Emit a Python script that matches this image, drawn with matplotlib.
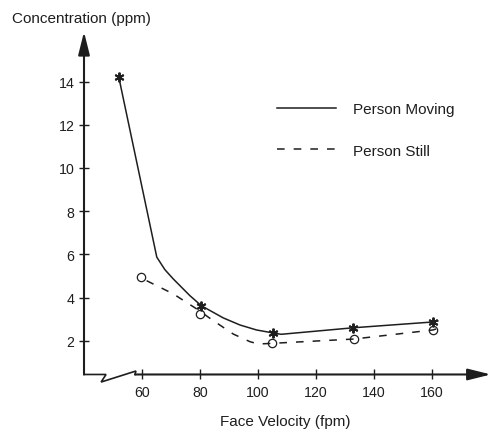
import matplotlib
matplotlib.use("Agg")
import matplotlib.pyplot as plt

plt.rcParams['font.family'] = ['Liberation Sans', 'DejaVu Sans']
plt.rcParams['lines.scale_dashes'] = False

INK = '#1e1e1e'

moving_line_x = [52, 65.1, 67.9, 70.8, 76.5, 80.5, 88, 93.8, 99.5, 105.3, 108, 132.7, 160.3, 162]
moving_line_y = [14.2, 5.87, 5.29, 4.86, 4.09, 3.62, 3.06, 2.73, 2.5, 2.36, 2.3, 2.6, 2.87, 2.92]
moving_pts_x = [52, 80.5, 105.3, 132.7, 160.3]
moving_pts_y = [14.2, 3.62, 2.36, 2.6, 2.87]

# Person still
still_line_x = [61.6, 70.8, 78.9, 84.6, 91.5, 97.2, 100.1, 104.7, 133, 160.3, 162.8]
still_line_y = [4.78, 4.17, 3.47, 2.93, 2.31, 1.96, 1.85, 1.88, 2.08, 2.5, 2.6]
still_pts_x = [59.7, 80, 104.7, 133, 160.3]
still_pts_y = [4.95, 3.24, 1.88, 2.08, 2.5]

x_ticks = [60, 80, 100, 120, 140, 160]
y_ticks = [2, 4, 6, 8, 10, 12, 14]

fig = plt.figure(figsize=(4.92, 4.31), dpi=100)
ax = fig.add_axes([0, 0, 1, 1])
ax.set_xlim(11.03, 180.7)
ax.set_ylim(-2.13, 17.82)

axis_y = 0.44
axis_x = 40
for s in ['top', 'right']:
    ax.spines[s].set_visible(False)
ax.spines['left'].set_position(('data', axis_x))
ax.spines['bottom'].set_position(('data', axis_y))
ax.spines['left'].set_visible(False)
ax.spines['bottom'].set_visible(False)

ax.set_xticks(x_ticks)
ax.set_yticks(y_ticks)
ax.tick_params(direction='inout', length=7.2, width=1.0, color=INK,
               labelcolor=INK, labelsize=10.2)
ax.tick_params(axis='x', pad=4)
ax.tick_params(axis='y', pad=3.4)

# axes with arrow heads
arrow = dict(arrowstyle='-|>,head_length=1.4,head_width=0.35', mutation_scale=10,
             lw=1.5, color=INK, shrinkA=0, shrinkB=0)
ax.annotate('', xy=(axis_x, 16.3), xytext=(axis_x, axis_y), arrowprops=arrow)
ax.annotate('', xy=(180.3, axis_y), xytext=(57.6, axis_y), arrowprops=arrow)
# axis break
ax.plot([axis_x, 47.6, 45.9, 57.9, 57.6], [axis_y, axis_y, 0.09, 0.6, axis_y],
        color=INK, lw=1.2, solid_joinstyle='miter')

ax.plot(moving_line_x, moving_line_y, color=INK, lw=1.1, label='Person Moving')
ax.plot(still_line_x, still_line_y, color=INK, lw=1.1, ls=(0, (5.5, 6.5)),
        label='Person Still')
ax.plot(moving_pts_x, moving_pts_y, ls='none', marker=(6, 2, 0), ms=7,
        mew=1.4, color=INK)
ax.plot(still_pts_x, still_pts_y, ls='none', marker='o', ms=6, mew=0.9,
        mfc='none', mec=INK)

ax.legend(loc='center left', bbox_to_anchor=(0.563, 0.696),
          bbox_transform=fig.transFigure, frameon=False, fontsize=11,
          handlelength=3.86, handletextpad=1.1, labelspacing=1.8,
          borderpad=0, borderaxespad=0, labelcolor=INK)

fig.text(12 / 492, 1 - 23 / 431, 'Concentration (ppm)', fontsize=11,
         color=INK, ha='left', va='baseline')
fig.text(285 / 492, 1 - 426 / 431, 'Face Velocity (fpm)', fontsize=11,
         color=INK, ha='center', va='baseline')

fig.savefig('out.png', dpi=100)
